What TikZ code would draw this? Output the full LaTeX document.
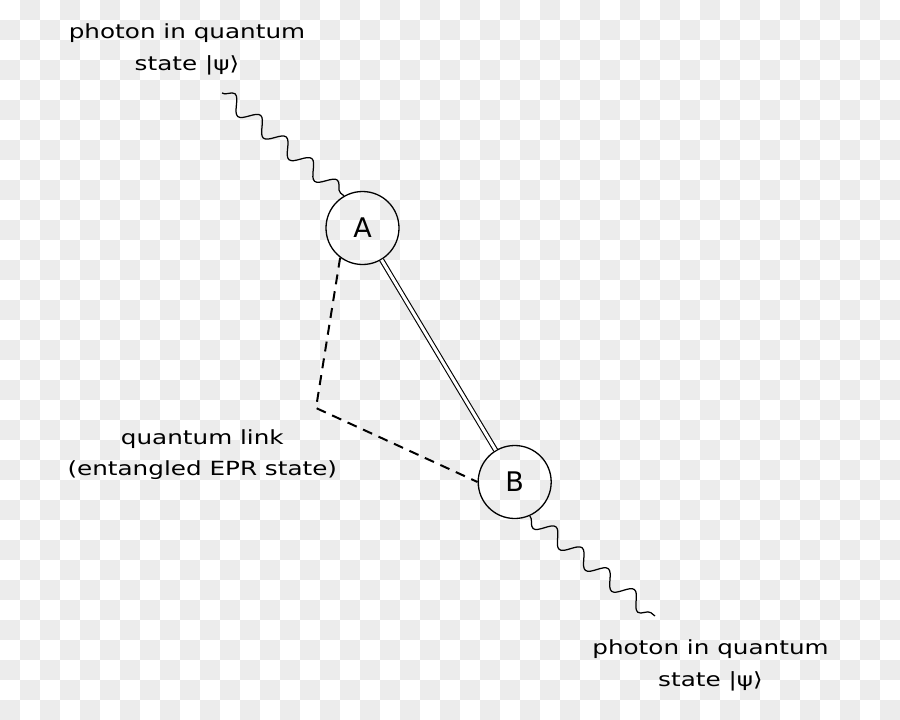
\documentclass[tikz,border=0pt]{standalone}
\usepackage{fontspec}
\setmainfont{DejaVu Sans}
\newfontfamily\labfont[FakeStretch=1.265]{DejaVu Sans}
\usetikzlibrary{decorations.pathmorphing}
\definecolor{chk}{RGB}{236,236,236}
\tikzset{
  circ/.style={circle, draw, line width=1.3pt, minimum size=73pt, inner sep=0pt,
    font=\fontsize{27}{27}\selectfont},
  lab/.style={align=center, inner sep=0pt, font=\labfont\fontsize{19.5}{30.5}\selectfont},
  photon/.style={decorate, line width=1.25pt,
    decoration={snake, segment length=33.5pt, amplitude=7.8pt}},
  dbl/.style={double=white, double distance=3pt, line width=1.1pt},
  dashline/.style={line width=2pt, dash pattern=on 10pt off 7pt}
}
\begin{document}
\begin{tikzpicture}[x=1pt,y=-1pt]
\useasboundingbox (0,0) rectangle (900,720);
\fill[white] (0,0) rectangle (900,720);
\foreach \i in {0,...,44} {
  \foreach \j in {0,...,35} {
    \pgfmathtruncatemacro\chkpar{mod(\i+\j,2)}
    \ifnum\chkpar=1 \fill[chk] (\i*20,\j*20) rectangle ++(20,20); \fi
  }
}
\node[circ] (A) at (362.5,228) {A};
\node[circ] (B) at (514.7,482) {B};
\coordinate (w1) at (222,93);
\coordinate (w2) at (655,616);
\coordinate (q) at (316,408);
\draw[photon] (w1) -- (A.120);
\draw[photon, decoration={mirror}] (B.-66) -- (w2);
\draw[dbl] (A) -- (B);
\draw[dashline] (A.-127) -- (q) -- (B.west);
\node[lab] (t1) at (187,49.3) {photon in quantum\\[1.5pt]state |ψ⟩};
\node[lab] (t2) at (202.3,454.8) {quantum link\\(entangled EPR state)};
\node[lab] (t3) at (710.5,665.5) {photon in quantum\\[1pt]state |ψ⟩};
\end{tikzpicture}
\end{document}
